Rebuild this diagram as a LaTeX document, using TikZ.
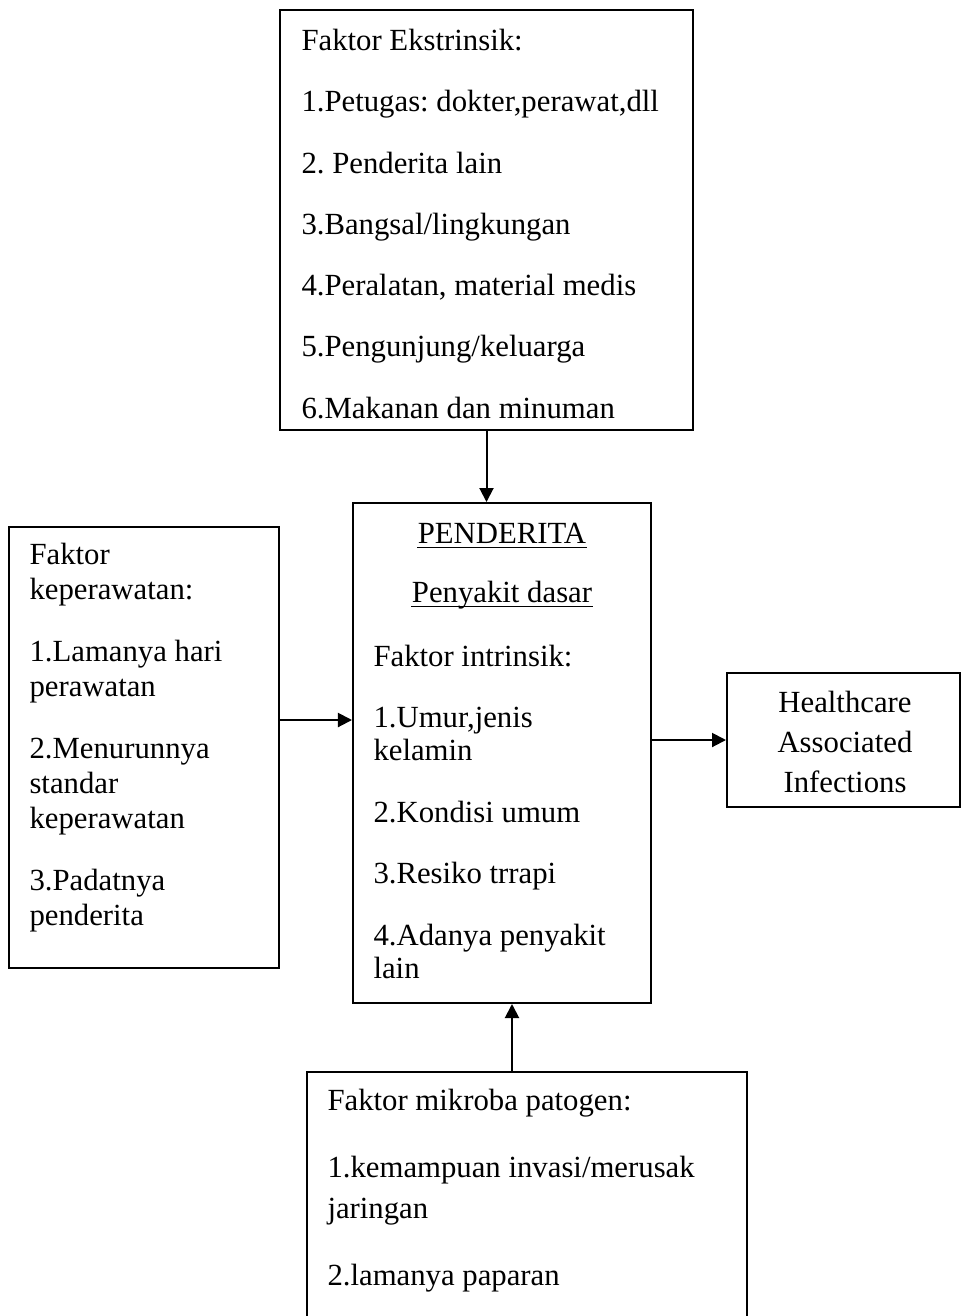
\documentclass[tikz,border=0pt]{standalone}
\usepackage{fontspec}
\setmainfont{Liberation Serif}
\usetikzlibrary{arrows.meta}
\frenchspacing
\begin{document}
\begin{tikzpicture}[x=0.4pt,y=-0.4pt,
  box/.style={draw, line width=0.8pt, inner sep=0pt},
  txt/.style={inner sep=0pt, align=left, font=\fontsize{12.3}{13.2}\selectfont},
  arr/.style={line width=0.8pt, -{Triangle[length=5.6pt,width=5.6pt]}},
  uline/.style={line width=0.6pt}]
\path[use as bounding box, clip] (0,0) rectangle (963,1316);
\fill[white] (0,0) rectangle (963,1316);
% boxes
\node[box, minimum width=165.2pt, minimum height=168pt] (ext) at (486.5,220) {};
\node[box, minimum width=108pt, minimum height=176.4pt] (kep) at (144,747.5) {};
\node[box, minimum width=119.2pt, minimum height=200pt] (pen) at (502,753) {};
\node[box, minimum width=93.2pt, minimum height=53.6pt] (hai) at (843.5,740) {};
\node[box, minimum width=176pt, minimum height=107.2pt] (mik) at (527,1206) {};
% texts (anchored at the baseline of their last line)
\node[txt, anchor=base west] (extT) at (301,418) {Faktor Ekstrinsik:\\[11.3pt]
1.Petugas: dokter,perawat,dll\\[11.3pt]
2. Penderita lain\\[11.3pt]
3.Bangsal/lingkungan\\[11.3pt]
4.Peralatan, material medis\\[11.3pt]
5.Pengunjung/keluarga\\[11.3pt]
6.Makanan dan minuman};
\node[txt, anchor=base west, font=\fontsize{12.3}{14}\selectfont] (kepT) at (29,925) {Faktor\\keperawatan:\\[10.8pt]
1.Lamanya hari\\perawatan\\[10.8pt]
2.Menurunnya\\standar\\keperawatan\\[10.8pt]
3.Padatnya\\penderita};
\node[txt, anchor=base] (penA) at (502,543) {PENDERITA};
\node[txt, anchor=base] (penB) at (502,602) {Penyakit dasar};
\draw[uline] ([yshift=-1.8pt]penA.base west) -- ([yshift=-1.8pt]penA.base east);
\draw[uline] ([yshift=-1.8pt]penB.base west) -- ([yshift=-1.8pt]penB.base east);
\node[txt, anchor=base west] (penT) at (373,978) {Faktor intrinsik:\\[11.4pt]
1.Umur,jenis\\kelamin\\[11.4pt]
2.Kondisi umum\\[11.4pt]
3.Resiko trrapi\\[11.4pt]
4.Adanya penyakit\\lain};
\node[txt, align=center, anchor=base, font=\fontsize{12.3}{16}\selectfont] (haiT) at (845,792) {Healthcare\\Associated\\Infections};
\node[txt, anchor=base west, font=\fontsize{12.3}{16.4}\selectfont] (mikT) at (327,1285) {Faktor mikroba patogen:\\[10.4pt]
1.kemampuan invasi/merusak\\jaringan\\[10.4pt]
2.lamanya paparan};
% connectors
\coordinate (la) at (279,720);
\coordinate (ma) at (512,1072);
\draw[arr] (ext.south) -- (ext.south |- pen.north);
\draw[arr] (kep.east |- la) -- (pen.west |- la);
\draw[arr] (pen.east |- hai.west) -- (hai.west);
\draw[arr] (mik.north -| ma) -- (pen.south -| ma);
\end{tikzpicture}
\end{document}
